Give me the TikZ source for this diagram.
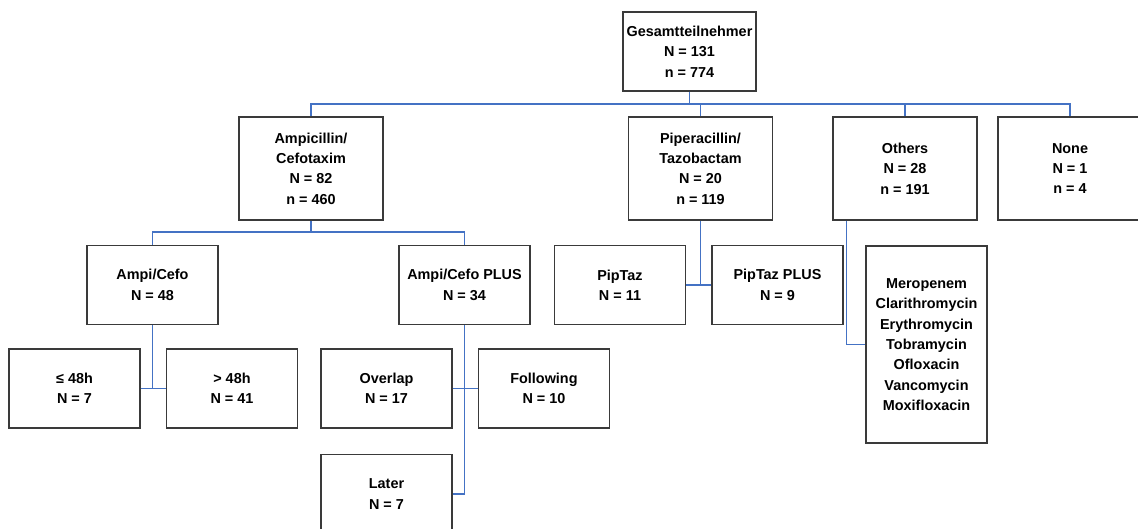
\documentclass[tikz,border=0pt]{standalone}
\usepackage{fontspec}
\setmainfont{Liberation Sans}
\usepackage{tikz}
\usetikzlibrary{positioning}
\definecolor{linkblue}{HTML}{4472C4}
\definecolor{boxline}{HTML}{3A3A3A}

\begin{document}
\begin{tikzpicture}[x=0.02cm,y=-0.02cm,node distance=0.5cm,
    box/.style={draw=boxline,line width=0.85pt,fill=white,align=center,
      font=\fontsize{8.2}{11.6}\selectfont\bfseries,inner sep=2pt},
    small/.style={box,minimum width=2.62cm,minimum height=1.58cm},
    big/.style={box,minimum width=2.88cm,minimum height=2.06cm},
    link/.style={draw=linkblue,line width=0.75pt}]
  \useasboundingbox (0,0) rectangle (1138,528);

  % first level
  \node[small] (total) at (689.5,51.5) {Gesamtteilnehmer\\N = 131\\n = 774};
  \node[big] (ampi) at (311,168.5) {Ampicillin/\\Cefotaxim\\N = 82\\n = 460};
  \node[big] (pip) at (700.5,168.5) {Piperacillin/\\Tazobactam\\N = 20\\n = 119};
  \node[big] (others) at (905,168.5) {Others\\N = 28\\n = 191};
  \node[big] (none) at (1070,168.5) {None\\N = 1\\n = 4};

  % second level
  \node[small] (ac) at (152.5,285) {Ampi/Cefo\\N = 48};
  \node[small] (acplus) at (464.5,285) {Ampi/Cefo PLUS\\N = 34};
  \node[small] (piptaz) at (620,285) {PipTaz\\N = 11};
  \node[small,right=of piptaz] (piptazplus) {PipTaz PLUS\\N = 9};
  \node[box,minimum width=2.42cm,minimum height=3.94cm] (meds) at (926.5,344.5) {
    Meropenem\\Clarithromycin\\Erythromycin\\Tobramycin\\Ofloxacin\\Vancomycin\\Moxifloxacin};

  % third level
  \node[small] (early) at (74.5,388.5) {≤ 48h\\N = 7};
  \node[small,right=of early] (late) {> 48h\\N = 41};
  \node[small] (overlap) at (386.5,388.5) {Overlap\\N = 17};
  \node[small,right=of overlap] (following) {Following\\N = 10};
  \node[small,below=of overlap] (later) {Later\\N = 7};

  % connectors
  \coordinate (bus1) at (0,104);
  \coordinate (bus2) at (0,232);
  \draw[link] (total.south) -- (total.south |- bus1);
  \draw[link] (ampi.north) |- (none.north |- bus1) -- (none.north);
  \draw[link] (pip.north) -- (pip.north |- bus1);
  \draw[link] (others.north) -- (others.north |- bus1);
  \draw[link] (ampi.south) -- (ampi.south |- bus2);
  \draw[link] (ac.north) |- (acplus.north |- bus2) -- (acplus.north);
  \draw[link] (pip.south) -- (pip.south |- piptaz.east);
  \draw[link] (piptaz.east) -- (piptazplus.west);
  \draw[link] ([xshift=0.28cm]others.south west) |- (meds.west);
  \draw[link] (ac.south) -- (ac.south |- early.east);
  \draw[link] (early.east) -- (late.west);
  \draw[link] (acplus.south) |- (later.east);
  \draw[link] (overlap.east) -- (following.west);
\end{tikzpicture}
\end{document}
